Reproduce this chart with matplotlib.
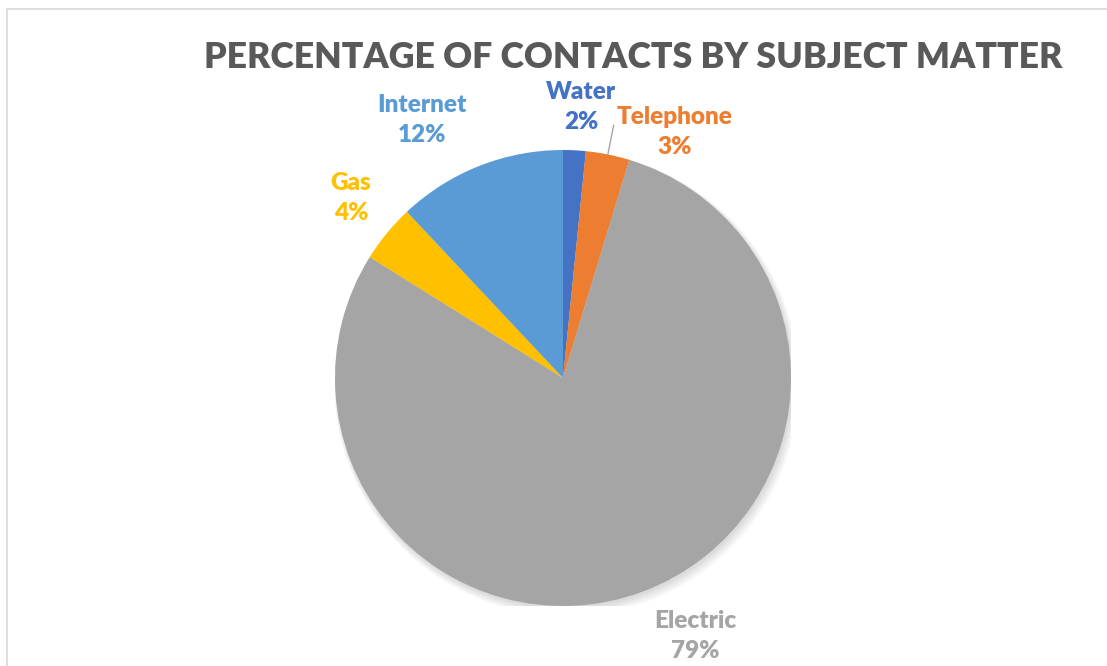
import numpy as np
import matplotlib.pyplot as plt
from matplotlib.patches import Circle, Rectangle

# data (clockwise from 12 o'clock)
categories = ['Water', 'Telephone', 'Electric', 'Gas', 'Internet']
shares = [1.6, 3.1, 79.2, 4.1, 12.0]
colors = ['#4472C4', '#ED7D31', '#A5A5A5', '#FFC000', '#5B9BD5']

# label centres in pie units (radius = 1)
label_pos = [(0.08, 1.19), (0.49, 1.08), (0.58, -1.13), (-0.93, 0.79), (-0.62, 1.13)]

plt.rcParams['font.family'] = ['Lato', 'DejaVu Sans']

W, H = 1107, 666
fig = plt.figure(figsize=(W / 100, H / 100), dpi=100)

# thin frame (only left + top are visible in the crop)
fig.patches.append(Rectangle((7 / W, -0.1), 1.2, (H - 9) / H + 0.1, transform=fig.transFigure,
                             fill=False, edgecolor='#D9D9D9', linewidth=1.2))

fig.text(633 / W, 1 - 57 / H, 'PERCENTAGE OF CONTACTS BY SUBJECT MATTER',
         ha='center', va='center', fontsize=25.7, fontweight='heavy', color='#595959')

cx, cy, r = 563, 378, 228
ax = fig.add_axes([(cx - r) / W, (H - cy - r) / H, 2 * r / W, 2 * r / H])

# soft shadow
for i in range(6):
    ax.add_patch(Circle((0.006 + i * 0.002, -0.01 - i * 0.003), 1.0 + i * 0.004,
                        color='black', alpha=0.025, zorder=0, linewidth=0))

wedges, _ = ax.pie(shares, colors=colors, startangle=90, counterclock=False,
                   radius=1, wedgeprops=dict(linewidth=0), frame=True)
ax.set_xlim(-1, 1)
ax.set_ylim(-1, 1)
ax.set_aspect('equal')
ax.axis('off')

for w, name, val, col, (lx, ly) in zip(wedges, categories, shares, colors, label_pos):
    ax.text(lx, ly, f'{name}\n{val:.0f}%', ha='center', va='center', color=col,
            fontsize=17.5, fontweight='heavy', linespacing=1.45, clip_on=False)

# leader line for Telephone
tel = wedges[1]
ang = np.deg2rad((tel.theta1 + tel.theta2) / 2)
ax.plot([np.cos(ang), 1.13 * np.cos(ang)], [np.sin(ang), 1.13 * np.sin(ang)],
        color='#A6A6A6', linewidth=1, clip_on=False)

fig.savefig('out.png', dpi=100)
